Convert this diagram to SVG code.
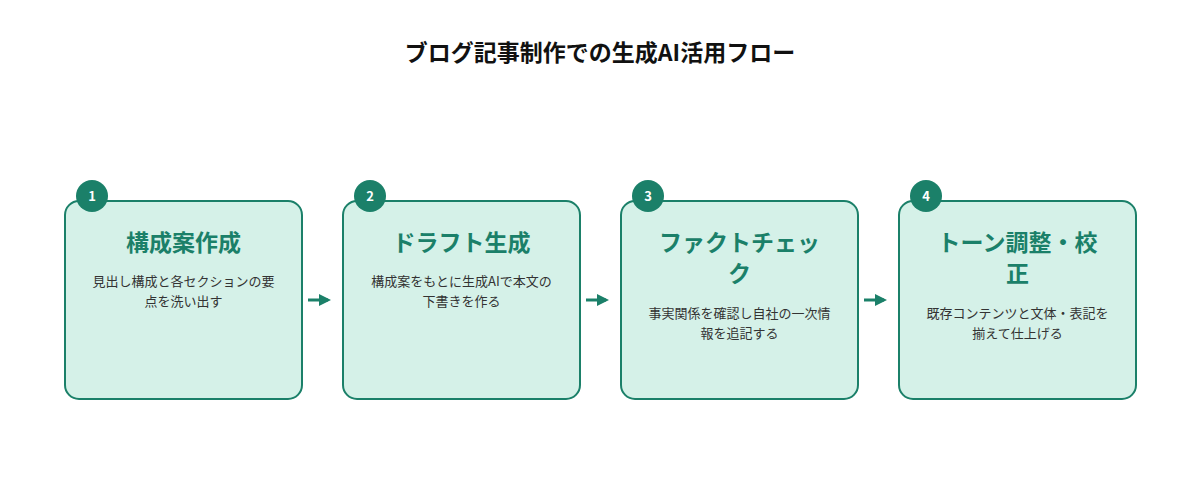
<svg xmlns="http://www.w3.org/2000/svg" width="1200" height="500" viewBox="0 0 1200 500">
<style>
text{font-family:"Noto Sans CJK JP","Noto Sans",sans-serif;text-anchor:middle}
.box{fill:#d5f1e8;stroke:#1b8069;stroke-width:2}
.num{fill:#1b8069}
.nt{fill:#fff;font-size:13px;font-weight:bold}
.tt{fill:#1b8069;font-size:23px;font-weight:bold}
.dt{fill:#333;font-size:13px}
.ar{stroke:#1b8069;stroke-width:3;fill:none}
</style>
<defs><marker id="ah" markerWidth="4" markerHeight="4" refX="3" refY="2" orient="auto"><path d="M0,0L4,2L0,4z" fill="#1b8069"/></marker></defs>
<rect width="1200" height="500" fill="#fff"/>
<text x="600" y="61" style="font-size:23px;font-weight:bold;fill:#111">ブログ記事制作での生成AI活用フロー</text>
<g id="n1"><rect class="box" x="65" y="201" width="237" height="198" rx="14"/><circle class="num" cx="92" cy="196" r="16"/><text class="nt" x="92" y="201">1</text>
<text class="tt" x="183.5" y="251">構成案作成</text><text class="dt" x="183.5" y="286">見出し構成と各セクションの要</text><text class="dt" x="183.5" y="306">点を洗い出す</text></g>
<g id="n2"><rect class="box" x="343" y="201" width="237" height="198" rx="14"/><circle class="num" cx="370" cy="196" r="16"/><text class="nt" x="370" y="201">2</text>
<text class="tt" x="461.5" y="251">ドラフト生成</text><text class="dt" x="461.5" y="286">構成案をもとに生成AIで本文の</text><text class="dt" x="461.5" y="306">下書きを作る</text></g>
<g id="n3"><rect class="box" x="621" y="201" width="237" height="198" rx="14"/><circle class="num" cx="648" cy="196" r="16"/><text class="nt" x="648" y="201">3</text>
<text class="tt" x="739.5" y="251">ファクトチェッ</text><text class="tt" x="739.5" y="282">ク</text><text class="dt" x="739.5" y="318">事実関係を確認し自社の一次情</text><text class="dt" x="739.5" y="338">報を追記する</text></g>
<g id="n4"><rect class="box" x="899" y="201" width="237" height="198" rx="14"/><circle class="num" cx="926" cy="196" r="16"/><text class="nt" x="926" y="201">4</text>
<text class="tt" x="1017.5" y="251">トーン調整・校</text><text class="tt" x="1017.5" y="282">正</text><text class="dt" x="1017.5" y="318">既存コンテンツと文体・表記を</text><text class="dt" x="1017.5" y="338">揃えて仕上げる</text></g>
<g id="connectors">
<line class="ar" x1="308" y1="300" x2="328" y2="300" marker-end="url(#ah)"/>
<line class="ar" x1="586" y1="300" x2="606" y2="300" marker-end="url(#ah)"/>
<line class="ar" x1="864" y1="300" x2="884" y2="300" marker-end="url(#ah)"/>
</g>
</svg>
